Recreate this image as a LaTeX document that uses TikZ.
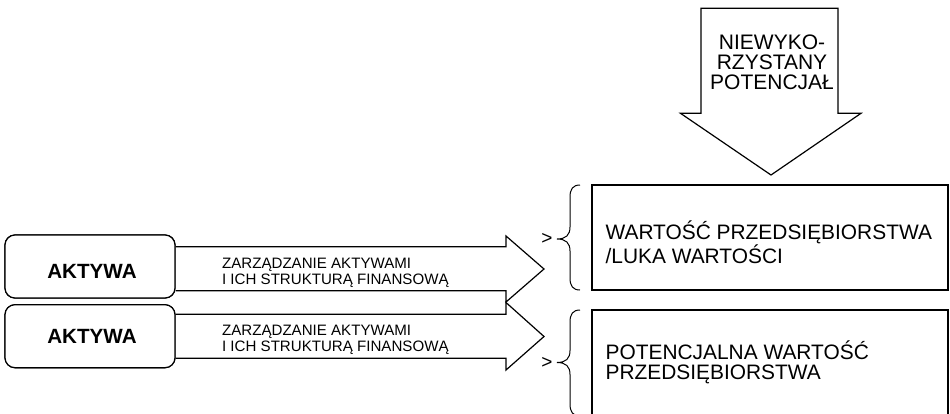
\documentclass[tikz,border=0pt]{standalone}
\usepackage{fontspec}
\setmainfont{Liberation Sans}
\begin{document}
\begin{tikzpicture}[x=1pt,y=-1pt,line width=1.2pt,
  abox/.style={draw,fill=white,rounded corners=10pt,minimum width=170pt,minimum height=63pt,inner sep=0pt},
  vbox/.style={draw,fill=white,minimum width=356pt,inner sep=0pt},
  btxt/.style={font=\fontsize{20.6}{20}\selectfont\bfseries,inner sep=0pt},
  stxt/.style={font=\fontsize{15.1}{16.3}\selectfont,inner sep=0pt,anchor=base west},
  ltxt/.style={font=\fontsize{20.9}{20}\selectfont,inner sep=0pt,anchor=base west},
  gt/.style={font=\fontsize{19}{19}\selectfont,inner sep=0pt},
  arrshape/.style={draw,fill=white,line join=miter}]
\clip (0,0) rectangle (950,413);
\fill[white] (0,0) rectangle (950,413);
% boxes (positions)
\node[abox] (a1) at (90,266.5) {};
\node[abox] (a2) at (90,336.2) {};
% arrows from boxes
\draw[arrshape] (a1.east |- 0,246.7) -- (506,246.7) -- (506,236) -- (544,269) -- (506,302) -- (506,290.7) -- (a1.east |- 0,290.7);
\draw[arrshape] (a2.east |- 0,314.3) -- (506,314.3) -- (506,302.5) -- (544,336.5) -- (506,370) -- (506,358.3) -- (a2.east |- 0,358.3);
% redraw boxes on top
\node[abox] at (a1) {};
\node[abox] at (a2) {};
\node[btxt] (a1t) at (92,271.3) {AKTYWA};
\node[btxt] (a2t) at (92,336.7) {AKTYWA};
\node[stxt] (s1) at (221.5,268) {\vtop{\hbox{ZARZĄDZANIE AKTYWAMI}\hbox{I ICH STRUKTURĄ FINANSOWĄ}}};
\node[stxt] (s2) at (221.5,335.6) {\vtop{\hbox{ZARZĄDZANIE AKTYWAMI}\hbox{I ICH STRUKTURĄ FINANSOWĄ}}};
% top arrow
\draw[arrshape] (701,8.3) -- (838,8.3) -- (838,113.3) -- (861,113.3) -- (771,175) -- (680.5,113.3) -- (701,113.3) -- cycle;
\node[font=\fontsize{21}{20}\selectfont,inner sep=0pt,anchor=base] (np) at (772,49)
  {\vtop{\halign{\hfil#\hfil\cr NIEWYKO-\cr RZYSTANY\cr POTENCJAŁ\cr}}};
% value boxes
\node[vbox,minimum height=105pt] (w1) at (770,237.5) {};
\node[vbox,minimum height=120pt] (w2) at (770,370) {};
\node[ltxt] (l1) at (605,239) {\vtop{\hbox{WARTOŚĆ PRZEDSIĘBIORSTWA}\hbox{/LUKA WARTOŚCI}}};
\node[ltxt] (l2) at (605,359) {\vtop{\hbox{POTENCJALNA WARTOŚĆ}\hbox{PRZEDSIĘBIORSTWA}}};
% braces
\draw[line width=1pt] (580,185) .. controls (573,185) and (570,189) .. (570,197) -- (570,227) .. controls (570,235) and (566,239) .. (557,239) .. controls (566,239) and (570,243) .. (570,251) -- (570,278) .. controls (570,286) and (573,290) .. (580,290);
\draw[line width=1pt] (580,310) .. controls (573,310) and (570,314) .. (570,322) -- (570,350.5) .. controls (570,358.5) and (566,362.5) .. (557,362.5) .. controls (566,362.5) and (570,366.5) .. (570,374.5) -- (570,404) .. controls (570,412) and (573,416) .. (580,416);
\node[gt] (g1) at (547,239) {>};
\node[gt] (g2) at (547,362.5) {>};
\end{tikzpicture}
\end{document}
